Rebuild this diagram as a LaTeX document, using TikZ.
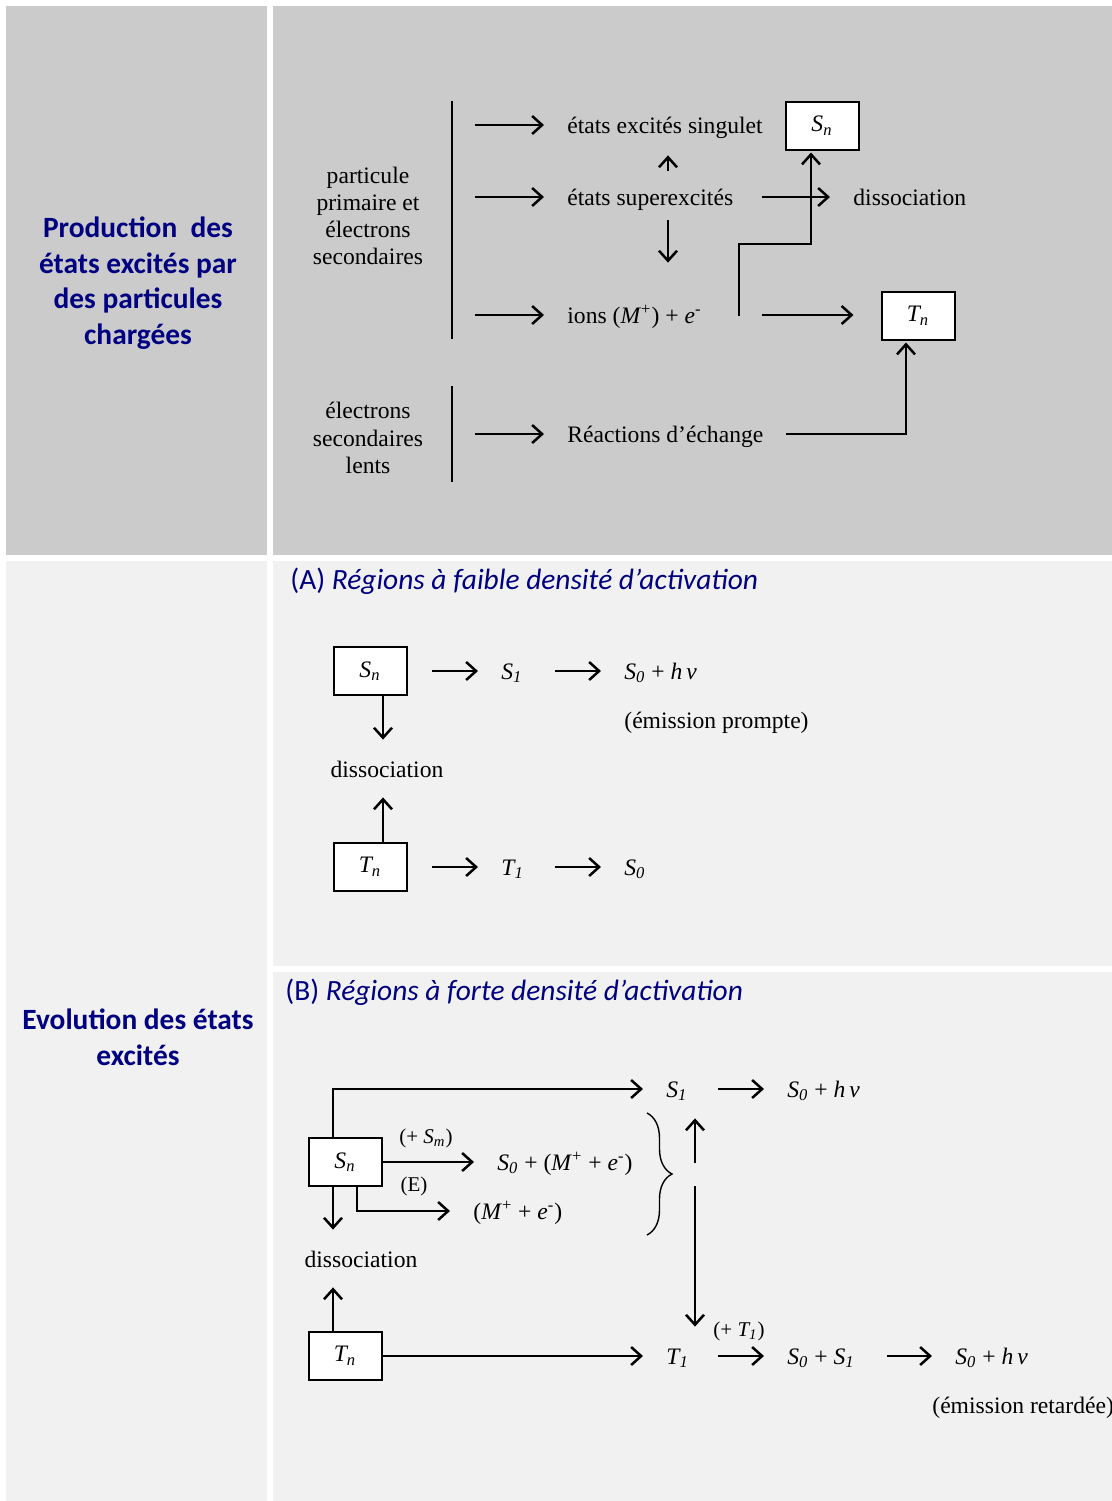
\documentclass[tikz,border=0pt]{standalone}
\usepackage{fontspec}
\setmainfont{Liberation Serif}
\newfontfamily\calibri{Carlito}
\usepackage{tikz}
\usetikzlibrary{arrows.meta, positioning, decorations.pathreplacing}
\definecolor{grisfonce}{RGB}{203, 203, 203}
\definecolor{grisclair}{RGB}{241, 241, 241}
\definecolor{bleunuit}{RGB}{0, 0, 128}
\newcommand{\etat}[2]{\textit{#1\textsubscript{#2}}}
\newcommand{\hnu}{\textit{h\,ν}}
\newcommand{\ionM}{\textit{M}\textsuperscript{+}}
\newcommand{\elec}{\textit{e}\textsuperscript{-}}
\tikzset{
    titre/.style={text=bleunuit, align=center, font=\calibri\bfseries\fontsize{14.7}{17.8}\selectfont},
    soustitre/.style={text=bleunuit, anchor=west, inner sep=0pt, font=\calibri\fontsize{14.7}{17.8}\selectfont},
    bloc/.style={align=center, font=\fontsize{11.8}{13.6}\selectfont},
    txt/.style={anchor=west, inner sep=0pt, text height=10pt, text depth=2pt, font=\fontsize{11.8}{13.6}\selectfont},
    etiq/.style={inner sep=0pt, font=\fontsize{10.5}{12}\selectfont},
    etatbox/.style={draw, fill=white, line width=1pt, minimum width=36.5pt, minimum height=24pt, inner sep=0pt, font=\fontsize{11.8}{13.6}\selectfont},
    fl/.style={-{Straight Barb[length=5pt, width=9pt, line width=1.25pt]}, line width=1pt},
    trait/.style={line width=1pt},
    gap/.style={shorten >=11.5pt},
}
\begin{document}
\begin{tikzpicture}[x=0.5pt, y=-0.5pt]
    \useasboundingbox (0,0) rectangle (1112,1501);
    % fond du tableau
    \fill[white] (0,0) rectangle (1112,1501);
    \fill[grisfonce] (6,6) rectangle (267,555);
    \fill[grisfonce] (273,6) rectangle (1112,555);
    \fill[grisclair] (6,561) rectangle (267,1501);
    \fill[grisclair] (273,561) rectangle (1112,966);
    \fill[grisclair] (273,972) rectangle (1112,1501);

    \node[titre] (prod) at (138,283) {Production\ \ des\\états excités par\\des particules\\chargées};
    \node[titre] (evol) at (138,1037) {Evolution des états\\excités};

    % production des etats excites
    \node[bloc] (partic) at (368,216) {particule\\primaire et\\électrons\\secondaires};
    \node[bloc] (lents) at (368,438) {électrons\\secondaires\\lents};
    \coordinate (barre1h) at (452,101);
    \coordinate (barre1b) at (452,339);
    \coordinate (barre2h) at (452,386);
    \coordinate (barre2b) at (452,482);
    \draw[trait] (barre1h) -- (barre1b);
    \draw[trait] (barre2h) -- (barre2b);

    \node[txt] (sing) at (567,125) {états excités singulet};
    \node[txt] (super) at (567,197) {états superexcités};
    \node[txt] (ions) at (567,315) {ions (\ionM) + \elec};
    \node[txt] (echange) at (567,434) {Réactions d’échange};
    \node[txt] (dissoc) at (853,197) {dissociation};
    \node[etatbox] (Sn) at (822,125.5) {\etat{S}{n}};
    \node[etatbox] (Tn) at (918,315.5) {\etat{T}{n}};

    \foreach \n/\y in {sing/125, super/197, ions/315, echange/434} {
        \coordinate (d-\n) at (475,\y);
        \draw[fl, gap] (d-\n) -- (\n.west);
    }
    \coordinate (axe) at (668,0);
    \draw[fl, shorten <=7pt, shorten >=9pt] (super.north -| axe) -- (sing.south -| axe);
    \draw[fl, shorten <=5.5pt, shorten >=20pt] (super.south -| axe) -- (ions.north -| axe);
    \coordinate (d-dis) at (762,197);
    \draw[fl, gap] (d-dis) -- (dissoc.west);
    \coordinate (depIons) at (739,316);
    \coordinate (coude) at (811,244);
    \draw[fl, shorten >=1pt] (depIons) |- (coude) -- (coude |- Sn.south);
    \coordinate (d-tn) at (762,315);
    \draw[fl, shorten >=13.5pt] (d-tn) -- (d-tn -| Tn.west);
    \coordinate (d-ech) at (786,434);
    \coordinate (coudeEch) at (906,434);
    \draw[fl, shorten >=1pt] (d-ech) -- (coudeEch) -- (coudeEch |- Tn.south);

    % (A) faible densite
    \node[soustitre] (titreA) at (290,581) {(A) \textit{Régions à faible densité d’activation}};
    \node[etatbox] (SnA) at (370,671) {\etat{S}{n}};
    \node[txt] (S1A) at (501,671) {\etat{S}{1}};
    \node[txt] (S0A) at (624,671) {\etat{S}{0} + \hnu};
    \node[txt] (promA) at (624,720) {(émission prompte)};
    \node[txt, anchor=center] (dissA) at (387,769) {dissociation};
    \node[etatbox] (TnA) at (370,867) {\etat{T}{n}};
    \node[txt] (T1A) at (501,867) {\etat{T}{1}};
    \node[txt] (S0bA) at (624,867) {\etat{S}{0}};

    \draw[fl, gap, shorten <=12pt] (SnA.east) -- (S1A.west);
    \draw[fl, gap, shorten <=12pt] (TnA.east) -- (T1A.west);
    \coordinate (a2) at (555,671);
    \coordinate (a3) at (555,867);
    \draw[fl, gap] (a2) -- (S0A.west);
    \draw[fl, gap] (a3) -- (S0bA.west);
    \coordinate (axeA) at (383,0);
    \draw[fl, shorten >=8.5pt] (SnA.south -| axeA) -- (dissA.north -| axeA);
    \draw[fl, shorten >=8pt] (TnA.north -| axeA) -- (dissA.south -| axeA);

    % (B) forte densite
    \node[soustitre] (titreB) at (285,992) {(B) \textit{Régions à forte densité d’activation}};
    \node[etatbox] (SnB) at (345,1162) {\etat{S}{n}};
    \node[txt] (S1B) at (666,1089) {\etat{S}{1}};
    \node[txt] (S0hB) at (787,1089) {\etat{S}{0} + \hnu};
    \node[txt] (S0MB) at (497,1162) {\etat{S}{0} + (\ionM{} + \elec)};
    \node[txt] (MeB) at (473,1211) {(\ionM{} + \elec)};
    \node[etiq] (plusSm) at (426,1138) {(+ \etat{S}{m})};
    \node[etiq] (E) at (414,1186) {(E)};
    \node[txt, anchor=center] (dissB) at (361,1259) {dissociation};
    \node[etatbox] (TnB) at (345,1356) {\etat{T}{n}};
    \node[txt] (T1B) at (666,1356) {\etat{T}{1}};
    \node[etiq] (plusT1) at (739,1331) {(+ \etat{T}{1})};
    \node[txt] (S0S1B) at (787,1356) {\etat{S}{0} + \etat{S}{1}};
    \node[txt] (S0hB2) at (955,1356) {\etat{S}{0} + \hnu};
    \node[txt] (retB) at (932,1405) {(émission retardée)};

    \coordinate (hautB) at (333,1089);
    \draw[fl, gap] (SnB.north -| hautB) -- (hautB) -- (S1B.west);
    \coordinate (b2) at (718,1089);
    \draw[fl, gap] (b2) -- (S0hB.west);
    \draw[fl, gap] (SnB.east) -- (S0MB.west);
    \coordinate (basE) at (357,1211);
    \draw[fl, gap] (SnB.south -| basE) -- (basE) -- (MeB.west);
    \coordinate (axeB) at (333,0);
    \draw[fl, shorten >=8.5pt] (SnB.south -| axeB) -- (dissB.north -| axeB);
    \draw[fl, shorten >=8pt] (TnB.north -| axeB) -- (dissB.south -| axeB);
    \draw[fl, gap] (TnB.east) -- (T1B.west);
    \coordinate (b3) at (718,1356);
    \draw[fl, gap] (b3) -- (S0S1B.west);
    \coordinate (b4) at (887,1356);
    \draw[fl, gap] (b4) -- (S0hB2.west);

    \coordinate (acc1) at (647,1113);
    \coordinate (acc2) at (647,1235);
    \draw[decorate, decoration={brace, amplitude=12.5pt}, line width=0.7pt] (acc1) -- (acc2);
    \coordinate (m1) at (695,1163);
    \coordinate (m2) at (695,1186);
    \draw[fl, shorten >=8.5pt] (m1) -- (m1 |- S1B.south);
    \draw[fl, shorten >=8.5pt] (m2) -- (m2 |- T1B.north);
\end{tikzpicture}
\end{document}
